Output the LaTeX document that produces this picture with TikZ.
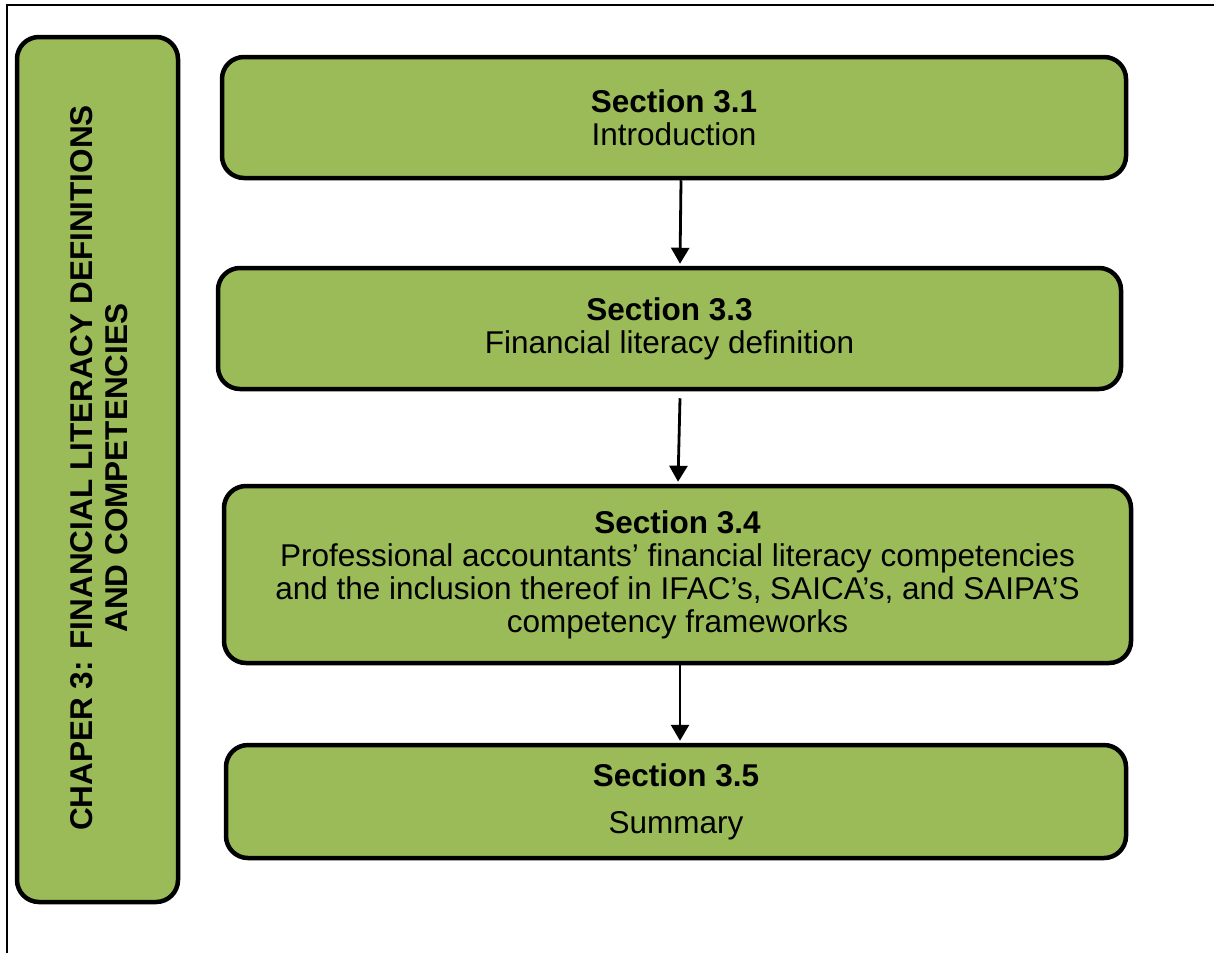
\documentclass[tikz,border=0pt]{standalone}
\usepackage{fontspec}
\setmainfont{Liberation Sans}
\usetikzlibrary{arrows.meta}
\definecolor{boxgreen}{HTML}{9BBB59}
\begin{document}
\begin{tikzpicture}[x=1pt,y=-1pt,
  secbox/.style={draw=black, line width=4.5pt, fill=boxgreen, rounded corners=22pt,
    align=center, inner sep=0pt, font=\fontsize{31.5}{33}\selectfont},
  flowarrow/.style={draw=black, line width=2.8pt, -{Triangle[length=16pt,width=18pt]}}]
  \useasboundingbox (0,0) rectangle (1214,953);
  % page frame
  \draw[line width=1.5pt] (7,953) -- (7,5) -- (1214,5);

  % chapter banner
  \node[secbox, minimum width=161pt, minimum height=865pt] (ch) at (97.5,469.5) {};
  \node[rotate=90, align=center, font=\fontsize{31.5}{35}\selectfont\bfseries] (chtext) at (99.5,468)
    {CHAPER 3: FINANCIAL LITERACY DEFINITIONS\\AND COMPETENCIES};

  % sections
  \node[secbox, minimum width=904pt, minimum height=121pt] (s1) at (674,117.5)
    {\textbf{Section 3.1}\\Introduction};
  \node[secbox, minimum width=903pt, minimum height=121pt] (s3) at (669.5,328.5)
    {\textbf{Section 3.3}\\Financial literacy definition};
  \node[secbox, minimum width=907pt, minimum height=177pt] (s4) at (677.5,574.5)
    {\textbf{Section 3.4}\\Professional accountants’ financial literacy competencies\\
     and the inclusion thereof in IFAC’s, SAICA’s, and SAIPA’S\\competency frameworks};
  \node[secbox, minimum width=900pt, minimum height=113pt] (s5) at (676,801.5)
    {\textbf{Section 3.5}\\[14pt]Summary};

  % flow
  \draw[flowarrow] ([xshift=7pt]s1.south) -- ([xshift=10.5pt,yshift=2pt]s3.north);
  \draw[flowarrow] ([xshift=10.5pt,yshift=-7pt]s3.south) -- ([xshift=0.5pt,yshift=2pt]s4.north);
  \draw[flowarrow] ([xshift=2.5pt]s4.south) -- ([xshift=4pt,yshift=2pt]s5.north);
\end{tikzpicture}
\end{document}
